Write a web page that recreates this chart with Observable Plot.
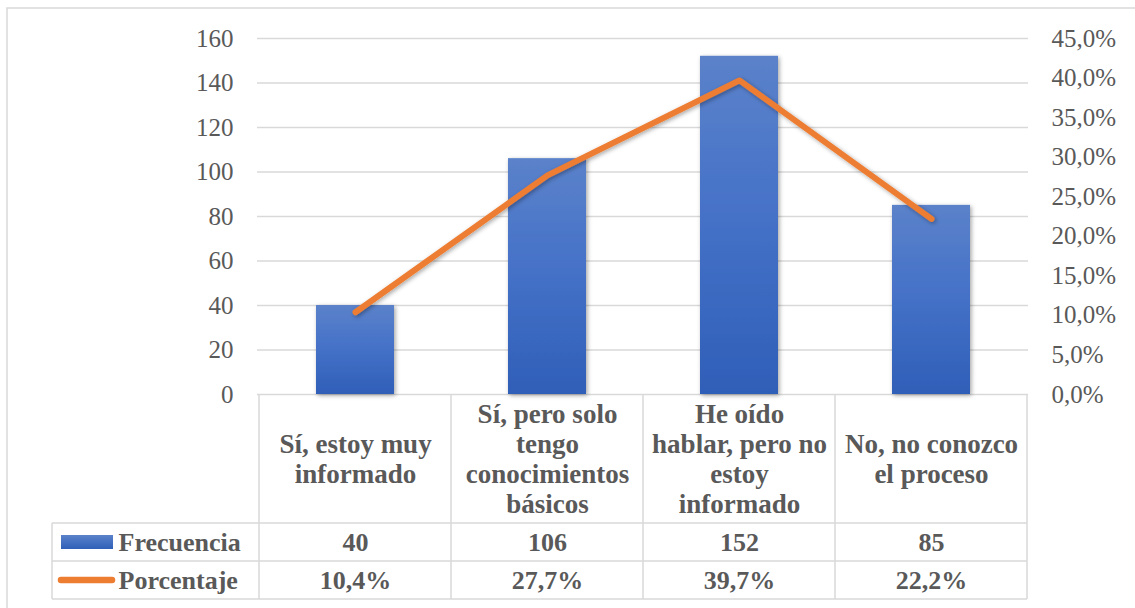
<!DOCTYPE html>
<html>
<head>
<meta charset="utf-8">
<script src="https://cdn.jsdelivr.net/npm/d3@7"></script>
<script src="https://cdn.jsdelivr.net/npm/@observablehq/plot@0.6"></script>
<style>
  html, body { margin: 0; padding: 0; background: #fff; }
  svg { display: block; }
  svg, svg text { font-family: "Liberation Serif", "Times New Roman", serif !important; }
</style>
</head>
<body>
<div id="chart"></div>
<script>
const categories = [
  "Sí, estoy muy\ninformado",
  "Sí, pero solo\ntengo\nconocimientos\nbásicos",
  "He oído\nhablar, pero no\nestoy\ninformado",
  "No, no conozco\nel proceso"
];
const frecuencia = [40, 106, 152, 85];
const porcentaje = [10.4, 27.7, 39.7, 22.2];
const leftTicks = [0, 20, 40, 60, 80, 100, 120, 140, 160];
const rightTicks = [0, 5, 10, 15, 20, 25, 30, 35, 40, 45];
const seriesNames = ["Frecuencia", "Porcentaje"];

const LEFT_MAX = 160, RIGHT_MAX = 45;
const toLeft = p => p / RIGHT_MAX * LEFT_MAX;
const fmtPct = v => v.toFixed(1).replace(".", ",") + "%";

const data = categories.map((c, i) => ({cat: c, freq: frecuencia[i], pct: porcentaje[i]}));

const textColor = "#595959";

const chart = Plot.plot({
  width: 1135,
  height: 608,
  marginTop: 38,
  marginBottom: 214,
  marginLeft: 257,
  marginRight: 107,
  style: {color: textColor, background: "#fff"},
  x: {domain: categories, paddingInner: 0.595, paddingOuter: 0.2975, axis: null},
  y: {domain: [0, LEFT_MAX], axis: null},
  marks: [
    Plot.gridY(leftTicks, {stroke: "#d9d9d9", strokeOpacity: 1, strokeWidth: 1.5}),
    Plot.barY(data, {x: "cat", y: "freq", fill: "url(#barGrad)", className: "bars"}),
    Plot.lineY(data, {x: "cat", y: d => toLeft(d.pct), stroke: "#ED7D31", strokeWidth: 6,
      strokeLinecap: "round", strokeLinejoin: "round", className: "pline"}),
    Plot.axisY(leftTicks, {anchor: "left", label: null, tickSize: 0, tickPadding: 24, fontSize: 25,
      fill: textColor, tickFormat: d => String(d)}),
    Plot.axisY(rightTicks.map(toLeft), {anchor: "right", label: null, tickSize: 0, tickPadding: 23, fontSize: 25,
      fill: textColor, tickFormat: (d, i) => fmtPct(rightTicks[i])}),
    // table header row: category labels
    Plot.text(data, {x: "cat", text: "cat", frameAnchor: "bottom", dy: 64, lineAnchor: "middle",
      lineHeight: 1.11, fontSize: 27, fontWeight: "bold", fill: textColor}),
    // Frecuencia row
    Plot.text(data, {x: "cat", text: d => String(d.freq), frameAnchor: "bottom", dy: 148,
      lineAnchor: "middle", fontSize: 26, fontWeight: "bold", fill: textColor}),
    // Porcentaje row
    Plot.text(data, {x: "cat", text: d => fmtPct(d.pct), frameAnchor: "bottom", dy: 186,
      lineAnchor: "middle", fontSize: 26, fontWeight: "bold", fill: textColor}),
    // legend labels in the table
    Plot.text([seriesNames[0]], {frameAnchor: "bottom-left", text: d => d, dx: -139, dy: 148,
      lineAnchor: "middle", fontSize: 26, fontWeight: "bold", fill: textColor, textAnchor: "start"}),
    Plot.text([seriesNames[1]], {frameAnchor: "bottom-left", text: d => d, dx: -139, dy: 186,
      lineAnchor: "middle", fontSize: 26, fontWeight: "bold", fill: textColor, textAnchor: "start"})
  ]
});

document.getElementById("chart").appendChild(chart);

const svg = d3.select(chart);
const defs = svg.insert("defs", ":first-child");
const grad = defs.append("linearGradient").attr("id", "barGrad")
  .attr("x1", 0).attr("y1", 0).attr("x2", 0).attr("y2", 1);
grad.append("stop").attr("offset", "0%").attr("stop-color", "#5B82CA");
grad.append("stop").attr("offset", "45%").attr("stop-color", "#4672C8");
grad.append("stop").attr("offset", "100%").attr("stop-color", "#2F5FB8");
const lg = defs.append("linearGradient").attr("id", "legGrad")
  .attr("x1", 0).attr("y1", 0).attr("x2", 0).attr("y2", 1);
lg.append("stop").attr("offset", "0%").attr("stop-color", "#5B82CA");
lg.append("stop").attr("offset", "100%").attr("stop-color", "#2F5FB8");
const f = defs.append("filter").attr("id", "shadow").attr("x", "-20%").attr("y", "-20%")
  .attr("width", "140%").attr("height", "140%");
f.append("feDropShadow").attr("dx", 1.5).attr("dy", 1.5).attr("stdDeviation", 2)
  .attr("flood-color", "#000").attr("flood-opacity", 0.35);

svg.selectAll(".bars rect").attr("filter", "url(#shadow)");
svg.selectAll(".pline path").attr("filter", "url(#shadow)");

// table grid using the x scale
const xs = chart.scale("x");
const yb = 394;
const centers = categories.map(c => xs.apply(c) + xs.bandwidth / 2);
const step = centers[1] - centers[0];
const colEdges = [centers[0] - step / 2, ...centers.map(c => c + step / 2)];
const tableLeft = 52, rowA = 523, rowB = 561, rowC = 599;
const gridG = svg.append("g").attr("stroke", "#d9d9d9").attr("stroke-width", 1.5).attr("fill", "none");
colEdges.forEach(x => gridG.append("line").attr("x1", x).attr("x2", x).attr("y1", yb).attr("y2", rowC));
gridG.append("line").attr("x1", tableLeft).attr("x2", tableLeft).attr("y1", rowA).attr("y2", rowC);
[rowA, rowB, rowC].forEach(y => gridG.append("line").attr("x1", tableLeft).attr("x2", colEdges[4]).attr("y1", y).attr("y2", y));

// legend swatches
svg.append("rect").attr("x", 61).attr("y", 535).attr("width", 52).attr("height", 14).attr("fill", "url(#legGrad)");
svg.append("line").attr("x1", 61).attr("x2", 112).attr("y1", 580).attr("y2", 580)
  .attr("stroke", "#ED7D31").attr("stroke-width", 6.5).attr("stroke-linecap", "round");

// outer chart border
svg.append("rect").attr("x", 7).attr("y", 8).attr("width", 1140).attr("height", 620)
  .attr("fill", "none").attr("stroke", "#d9d9d9").attr("stroke-width", 1.5);

svg.select(".pline").raise();
</script>
</body>
</html>
